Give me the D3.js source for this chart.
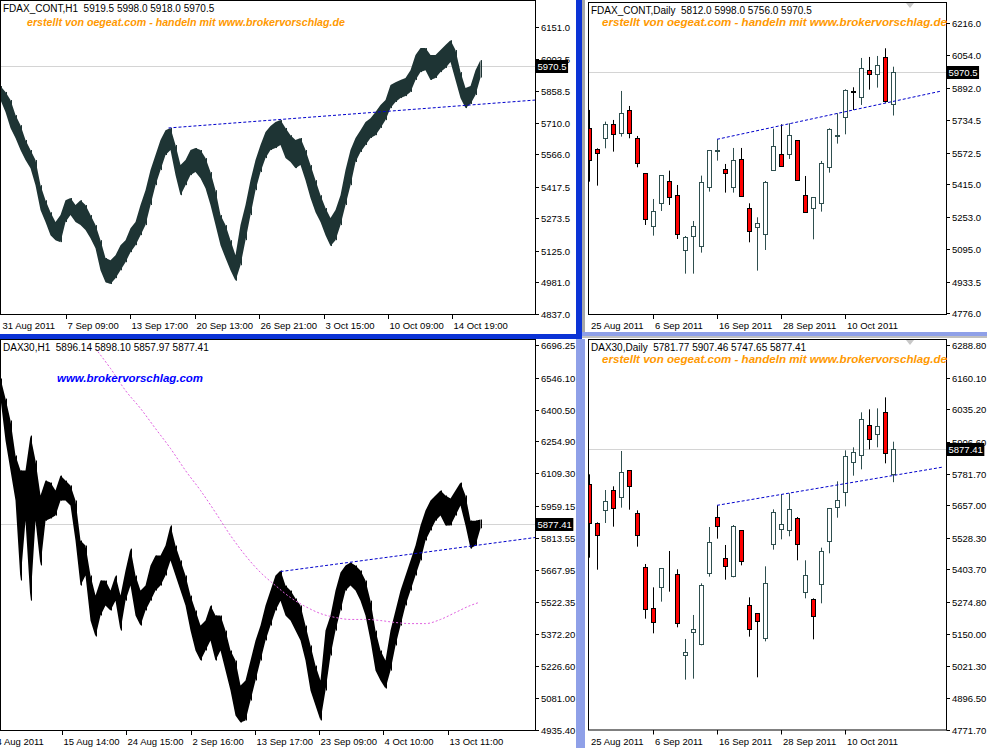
<!DOCTYPE html>
<html><head><meta charset="utf-8">
<script src="https://cdn.jsdelivr.net/npm/d3@7"></script>
<style>
body{margin:0;background:#fff;overflow:hidden;}
svg{display:block;}
text{font-family:"Liberation Sans",Arial,sans-serif;}
</style></head><body>
<svg id="c" width="987" height="748"></svg>
<script>
// ---------------- DATA ----------------
const tlHeader = "FDAX_CONT,H1  5919.5 5998.0 5918.0 5970.5";
const trHeader = "FDAX_CONT,Daily  5812.0 5998.0 5756.0 5970.5";
const blHeader = "DAX30,H1  5896.14 5898.10 5857.97 5877.41";
const brHeader = "DAX30,Daily  5781.77 5907.46 5747.65 5877.41";
const watermark = "erstellt von oegeat.com - handeln mit www.brokervorschlag.de";
const watermark2 = "www.brokervorschlag.com";

// FDAX H1 (top-left): high/low envelope sampled every 5 hourly bars
const tlStep = 5;
const tlHigh = [5879,5852,5815,5746,5700,5632,5586,5540,5425,5356,
                5301,5256,5288,5356,5366,5334,5356,5334,5288,5242,
                5173,5091,5081,5104,5150,5173,5228,5256,5334,5402,
                5494,5563,5632,5677,5687,5609,5517,5540,5586,5595,
                5586,5549,5485,5402,5288,5242,5173,5104,5242,5334,
                5448,5540,5609,5668,5696,5714,5723,5687,5654,5632,
                5641,5586,5517,5448,5379,5320,5274,5311,5379,5494,
                5586,5641,5677,5714,5732,5760,5792,5815,5884,5897,
                5907,5916,5952,6021,6053,6053,6021,6021,6044,6067,
                6089,6044,5943,5870,5879,5952,5998];
const tlLow  = [5815,5760,5687,5641,5586,5540,5503,5425,5311,5256,
                5196,5173,5164,5256,5288,5256,5242,5219,5182,5136,
                5035,4980,4972,4999,5035,5072,5118,5150,5196,5242,
                5334,5425,5494,5563,5586,5471,5379,5425,5471,5485,
                5457,5411,5334,5242,5150,5091,5035,4987,5058,5173,
                5288,5402,5485,5549,5586,5595,5609,5549,5531,5503,
                5517,5448,5366,5301,5256,5196,5146,5173,5242,5334,
                5425,5531,5577,5609,5641,5654,5687,5723,5778,5806,
                5824,5833,5852,5907,5943,5952,5907,5916,5943,5962,
                5989,5907,5824,5778,5797,5838,5918];
const tlLast = 5970.5;
const tlYTicks = [6151.0,6002.5,5858.5,5710.0,5566.0,5417.5,5273.5,5125.0,4981.0,4837.0];
const tlXLabels = ["31 Aug 2011","7 Sep 09:00","13 Sep 17:00","20 Sep 13:00","26 Sep 21:00","3 Oct 15:00","10 Oct 09:00","14 Oct 19:00"];
const tlXBars = [0,65,129,194,258,323,387,451];
const tlTrend = [[168,5687],[535,5815]];

// DAX30 H1 (bottom-left): high/low envelope sampled every 5 hourly bars
const blStep = 5;
const blHigh = [6543,6451,6351,6191,6122,6122,6282,6168,6008,6076,
                6067,6031,6099,6076,6054,5985,5802,5779,5642,5550,
                5619,5619,5573,5642,5550,5665,5765,5642,5573,5596,
                5688,5733,5733,5779,5871,5779,5711,5642,5550,5482,
                5413,5436,5505,5459,5459,5390,5299,5253,5139,5162,
                5253,5345,5413,5505,5573,5642,5665,5596,5573,5537,
                5505,5413,5322,5230,5162,5390,5459,5573,5656,5688,
                5701,5688,5665,5619,5527,5390,5299,5253,5390,5482,
                5573,5642,5711,5779,5871,5939,5985,6008,6031,6008,
                5994,6031,6067,6008,5893,5893,5898.10];
const blLow  = [6451,6259,6122,5985,5619,5893,5527,5893,5688,5893,
                5903,5916,5985,5985,5962,5802,5596,5642,5436,5363,
                5459,5505,5482,5527,5390,5527,5596,5459,5413,5482,
                5527,5573,5596,5642,5711,5642,5573,5505,5390,5299,
                5253,5299,5345,5253,5299,5207,5116,5002,4970,4979,
                5070,5162,5253,5345,5413,5482,5527,5459,5436,5390,
                5345,5253,5116,5047,4979,5116,5276,5390,5482,5573,
                5596,5573,5527,5459,5345,5207,5162,5125,5207,5322,
                5413,5505,5573,5642,5711,5802,5848,5893,5916,5871,
                5871,5916,5962,5871,5765,5779,5857.97];
const blLast = 5877.41;
const blYTicks = [6696.25,6546.10,6400.50,6254.90,6109.30,5959.15,5813.55,5667.95,5522.35,5372.20,5226.60,5081.00,4935.40];
const blXLabels = ["4 Aug 2011","15 Aug 14:00","24 Aug 15:00","2 Sep 16:00","13 Sep 17:00","23 Sep 09:00","4 Oct 10:00","13 Oct 11:00"];
const blXBars = [-6,61,125,190,254,318,382,447];
const blTrend = [[280,5660],[535,5816]];
const blMaBars = [95,110,125,140,155,170,185,200,215,230,245,260,275,290,305,320,335,350,365,380,395,410,425,440,455,470,478];
const blMa = [6680,6589,6488,6406,6314,6223,6122,6031,5930,5825,5733,5656,5596,5541,5500,5468,5450,5441,5441,5436,5427,5422,5422,5441,5473,5505,5518];

// Daily dates (shared by both daily charts)
const dailyDates = ["25 Aug 2011","26 Aug 2011","29 Aug 2011","30 Aug 2011","31 Aug 2011","1 Sep 2011","2 Sep 2011","5 Sep 2011","6 Sep 2011","7 Sep 2011","8 Sep 2011","9 Sep 2011","12 Sep 2011","13 Sep 2011","14 Sep 2011","15 Sep 2011","16 Sep 2011","19 Sep 2011","20 Sep 2011","21 Sep 2011","22 Sep 2011","23 Sep 2011","26 Sep 2011","27 Sep 2011","28 Sep 2011","29 Sep 2011","30 Sep 2011","3 Oct 2011","4 Oct 2011","5 Oct 2011","6 Oct 2011","7 Oct 2011","10 Oct 2011","11 Oct 2011","12 Oct 2011","13 Oct 2011","14 Oct 2011","17 Oct 2011","18 Oct 2011"];
const dailyLabelIdx = [0,8,16,24,32];

// FDAX Daily (top-right)
const trOpen  = [5692.8,5590.3,5643.2,5712.6,5668.0,5782.0,5643.2,5469.7,5210.4,5321.1,5431.7,5362.4,5088.1,5160.8,5108.0,5400.4,5580.0,5489.6,5400.4,5540.8,5296.3,5202.1,5167.4,5484.6,5563.9,5563.9,5633.3,5362.4,5296.3,5321.1,5499.5,5655.0,5747.3,5876.0,5846.4,5980.2,5960.4,6044.6,5812.0];
const trHigh  = [5783.6,5593.6,5725.8,5734.1,5877.8,5803.4,5654.8,5469.7,5342.5,5459.8,5483.0,5411.9,5159.1,5233.5,5458.2,5583.7,5638.2,5516.0,5595.3,5595.3,5321.1,5251.7,5431.7,5691.1,5712.6,5717.5,5633.3,5456.5,5350.8,5530.9,5692.8,5767.1,5886.0,5896.0,6041.3,6046.3,6051.2,6089.2,5998.0];
const trLow   = [5428.4,5408.6,5593.6,5577.1,5651.5,5643.2,5499.5,5213.7,5160.8,5283.1,5312.8,5144.3,4972.5,4972.5,5076.6,5378.9,5532.5,5373.9,5373.9,5355.8,5127.8,4987.4,5089.8,5484.6,5502.8,5540.8,5435.0,5276.5,5142.6,5279.8,5473.0,5616.8,5663.0,5783.6,5808.4,5884.4,5894.3,5820.0,5756.0];
const trClose = [5535.8,5568.9,5712.6,5663.0,5767.1,5668.0,5519.3,5241.8,5283.1,5459.8,5354.1,5167.4,5154.2,5207.1,5425.1,5583.7,5585.0,5469.7,5535.8,5355.8,5182.3,5221.9,5425.1,5603.6,5507.7,5658.1,5435.0,5276.5,5350.8,5519.3,5687.8,5660.0,5881.1,5874.0,5990.1,5960.4,6005.0,5829.9,5970.5];
const trLast = 5970.5;
const trYTicks = [6216.0,6054.0,5892.0,5734.5,5572.5,5415.0,5253.0,5095.0,4933.5,4776.0];
const trTrend = [[16,5638.2],[44.1,5877.8]];

// DAX30 Daily (bottom-right)
const brOpen  = [5739.2,5585.3,5636.6,5715.5,5687.9,5794.4,5624.7,5411.6,5249.9,5332.7,5412.0,5384.0,5064.4,5155.2,5109.1,5388.0,5608.9,5447.2,5376.1,5557.6,5261.7,5230.1,5131.5,5502.4,5561.6,5557.6,5605.0,5313.0,5285.4,5344.6,5514.2,5648.4,5707.6,5826.0,5853.6,5972.0,5936.4,6023.3,5781.77];
const brHigh  = [5778.6,5589.2,5716.8,5731.3,5870.7,5794.4,5636.6,5424.8,5332.7,5407.7,5476.1,5403.8,5128.9,5223.6,5348.5,5570.8,5656.3,5499.8,5578.7,5557.6,5293.3,5230.1,5415.6,5640.5,5699.7,5703.6,5610.3,5439.3,5289.3,5489.3,5644.5,5751.0,5873.3,5885.2,6023.3,6035.1,6039.0,6082.4,5907.46];
const brLow   = [5449.8,5402.4,5586.6,5572.1,5647.1,5639.2,5493.2,5209.1,5151.2,5276.2,5315.6,5174.9,4968.4,4972.3,5103.9,5374.8,5524.8,5363.0,5372.2,5419.5,5138.1,4977.6,5119.6,5481.4,5522.1,5534.0,5439.3,5289.3,5127.5,5269.6,5466.9,5607.6,5652.3,5773.4,5798.3,5877.3,5885.2,5822.0,5747.65];
const brClose = [5585.3,5537.9,5672.1,5644.5,5786.5,5731.3,5537.9,5245.9,5194.6,5407.7,5411.0,5190.7,5076.2,5167.0,5340.6,5510.3,5573.4,5415.6,5573.4,5435.3,5167.0,5198.6,5348.5,5628.7,5581.3,5640.5,5502.4,5380.1,5218.3,5474.8,5644.5,5676.0,5849.6,5865.4,5995.6,5916.7,5968.0,5861.5,5877.41];
const brLast = 5877.41;
const brYTicks = [6288.80,6160.10,6035.20,5906.60,5781.70,5657.00,5528.30,5403.70,5274.80,5150.00,5021.30,4896.50,4771.70];
const brTrend = [[16,5656.3],[44.3,5807.6]];

// ---------------- DRAWING ----------------
const svg = d3.select("#c");
const ORANGE = "#ff9900";
const TREND = "#0000cc";
const BULL = "#2f4f4f";

let clipId = 0;
function makePanel(p) {
  const g = svg.append("g");
  const id = "clip" + (clipId++);
  svg.append("clipPath").attr("id", id).append("rect")
    .attr("x", p.fx0 + 1).attr("y", p.fy0 + 1)
    .attr("width", p.fx1 - p.fx0 - 1).attr("height", p.fy1 - p.fy0 - 1);
  const y = d3.scaleLinear().domain(p.yDomain).range(p.yRange);
  const inner = g.append("g").attr("clip-path", `url(#${id})`);
  inner.append("line").attr("x1", p.fx0).attr("x2", p.fx1)
    .attr("y1", Math.round(y(p.last)) + 0.5).attr("y2", Math.round(y(p.last)) + 0.5)
    .attr("stroke", "#d4d4d4").attr("stroke-width", 1);
  g.append("rect").attr("x", p.fx0 + 0.5).attr("y", p.fy0 + 0.5)
    .attr("width", p.fx1 - p.fx0).attr("height", p.fy1 - p.fy0)
    .attr("fill", "none").attr("stroke", "#000");
  const ya = g.append("g");
  p.yTicks.forEach(v => {
    const yy = Math.round(y(v)) + 0.5;
    ya.append("line").attr("x1", p.fx1 + 0.5).attr("x2", p.fx1 + 4).attr("y1", yy).attr("y2", yy).attr("stroke", "#000");
    ya.append("text").attr("x", p.fx1 + 6).attr("y", yy + 3.5).attr("font-size", "9.5px").attr("fill", "#000").text(p.yFmt(v));
  });
  const ly = Math.round(y(p.last));
  const lt = g.append("text").attr("x", p.fx1 + 2.5).attr("y", ly + 3.5).attr("font-size", "9.5px").attr("fill", "#fff").text(p.yFmt(p.last));
  const w = lt.node().getComputedTextLength();
  g.insert("rect", () => lt.node()).attr("x", p.fx1 + 1).attr("y", ly - 6).attr("width", w + 3).attr("height", 13).attr("fill", "#000");
  g.append("text").attr("x", p.fx0 + 3).attr("y", p.fy0 + 11.5).attr("font-size", "10px").attr("fill", "#000")
    .style("white-space", "pre").text(p.header);
  return { g, inner, y };
}

function xAxis(g, p, positions, labels) {
  positions.forEach((px, i) => {
    if (i > 0) g.append("line").attr("x1", Math.round(px) + 0.5).attr("x2", Math.round(px) + 0.5)
      .attr("y1", p.fy1 + 0.5).attr("y2", p.fy1 + 5).attr("stroke", "#000");
    g.append("text").attr("x", px + 2).attr("y", p.fy1 + 15).attr("font-size", "9.5px").attr("fill", "#000").text(labels[i]);
  });
}

function h1Panel(p, step, highs, lows, fill) {
  const P = makePanel(p);
  const x = d3.scaleLinear().domain([0, 1]).range([p.fx0 + 0.5, p.fx0 + 1.5]);
  const idx = d3.range(highs.length);
  const area = d3.area().x(i => x(i * step)).y0(i => P.y(lows[i])).y1(i => P.y(highs[i])).curve(d3.curveLinear);
  P.inner.append("path").datum(idx).attr("d", area).attr("fill", fill);
  P.inner.append("g").selectAll("line").data(idx).join("line")
    .attr("x1", i => Math.round(x(i * step)) + 0.5).attr("x2", i => Math.round(x(i * step)) + 0.5)
    .attr("y1", i => P.y(highs[i])).attr("y2", i => P.y(lows[i]))
    .attr("stroke", fill).attr("stroke-width", 1);
  xAxis(P.g, p, p.xBars.map(b => x(b)), p.xLabels);
  P.inner.append("line").attr("x1", x(p.trend[0][0])).attr("y1", P.y(p.trend[0][1]))
    .attr("x2", x(p.trend[1][0])).attr("y2", P.y(p.trend[1][1]))
    .attr("stroke", TREND).attr("stroke-width", 1).attr("stroke-dasharray", "3,2");
  return { P, x };
}

const fmt1 = d3.format(".1f"), fmt2 = d3.format(".2f");

const TL = { fx0: 0, fy0: 0, fx1: 535, fy1: 314, yDomain: [4837, 6151], yRange: [313.5, 26.7],
  last: tlLast, yTicks: tlYTicks, yFmt: fmt1, header: tlHeader, xBars: tlXBars, xLabels: tlXLabels, trend: tlTrend };
const tl = h1Panel(TL, tlStep, tlHigh, tlLow, "#1e3434");
tl.P.g.append("text").attr("x", 27).attr("y", 25.5).attr("font-size", "11px").attr("font-weight", "bold")
  .attr("font-style", "italic").attr("fill", ORANGE).attr("textLength", 318).attr("lengthAdjust", "spacingAndGlyphs").text(watermark);

const BL = { fx0: 0, fy0: 339, fx1: 535, fy1: 730, yDomain: [4935.4, 6696.25], yRange: [730, 345],
  last: blLast, yTicks: blYTicks, yFmt: fmt2, header: blHeader, xBars: blXBars, xLabels: blXLabels, trend: blTrend };
const bl = h1Panel(BL, blStep, blHigh, blLow, "#000");
bl.P.inner.append("path").datum(d3.range(blMa.length))
  .attr("d", d3.line().x(i => bl.x(blMaBars[i])).y(i => bl.P.y(blMa[i])).curve(d3.curveMonotoneX))
  .attr("fill", "none").attr("stroke", "#e060e0").attr("stroke-width", 1).attr("stroke-dasharray", "2,2");
bl.P.g.append("text").attr("x", 57).attr("y", 382).attr("font-size", "11px").attr("font-weight", "bold")
  .attr("font-style", "italic").attr("fill", "#0000ff").attr("textLength", 146).attr("lengthAdjust", "spacingAndGlyphs").text(watermark2);

function dailyPanel(p, O, H, L, C) {
  const P = makePanel(p);
  const x = d3.scaleLinear().domain([0, 1]).range([589, 597]);
  const idx = d3.range(O.length);
  const c = P.inner.append("g");
  idx.forEach(i => {
    const bear = C[i] < O[i];
    const cx = Math.round(x(i)) + 0.5;
    c.append("line").attr("x1", cx).attr("x2", cx).attr("y1", P.y(H[i])).attr("y2", P.y(L[i]))
      .attr("stroke", bear ? "#000" : BULL).attr("stroke-width", 1);
    const top = Math.round(P.y(Math.max(O[i], C[i]))) + 0.5;
    const bot = Math.round(P.y(Math.min(O[i], C[i]))) + 0.5;
    c.append("rect").attr("x", cx - 2).attr("y", top).attr("width", 4).attr("height", Math.max(0, bot - top))
      .attr("fill", bear ? "#ff0000" : "#fff").attr("stroke", bear ? "#000" : BULL).attr("stroke-width", 1);
  });
  xAxis(P.g, p, dailyLabelIdx.map(i => x(i)), dailyLabelIdx.map(i => dailyDates[i]));
  P.inner.append("line").attr("x1", x(p.trend[0][0])).attr("y1", P.y(p.trend[0][1]))
    .attr("x2", x(p.trend[1][0])).attr("y2", P.y(p.trend[1][1]))
    .attr("stroke", TREND).attr("stroke-width", 1).attr("stroke-dasharray", "3,2");
  P.g.append("path").attr("d", `M${p.fx1 - 40},${p.fy0 + 1} l8,0 l-4,5 z`).attr("fill", "#c8c8c8");
  P.g.append("text").attr("x", 602).attr("y", p.fy0 + 24).attr("font-size", "11px").attr("font-weight", "bold")
    .attr("font-style", "italic").attr("fill", ORANGE).attr("textLength", 345).attr("lengthAdjust", "spacingAndGlyphs").text(watermark);
  return P;
}

const TR = { fx0: 588, fy0: 2, fx1: 946, fy1: 314, yDomain: [4776, 6216], yRange: [313.3, 22.7],
  last: trLast, yTicks: trYTicks, yFmt: fmt1, header: trHeader, trend: trTrend };
dailyPanel(TR, trOpen, trHigh, trLow, trClose);
const BR = { fx0: 588, fy0: 339, fx1: 946, fy1: 729.5, yDomain: [4771.7, 5877.41], yRange: [729.5, 449.3],
  last: brLast, yTicks: brYTicks, yFmt: fmt2, header: brHeader, trend: brTrend };
dailyPanel(BR, brOpen, brHigh, brLow, brClose);

const chrome = svg.append("g");
chrome.append("rect").attr("x", 576).attr("y", 339).attr("width", 9).attr("height", 409).attr("fill", "#8fa0e8");
chrome.append("rect").attr("x", 582).attr("y", 332).attr("width", 405).attr("height", 4).attr("fill", "#8fa0e8");
chrome.append("rect").attr("x", 582).attr("y", 336).attr("width", 405).attr("height", 2).attr("fill", "#c0c0c0");
chrome.append("rect").attr("x", 582).attr("y", 0).attr("width", 3).attr("height", 332).attr("fill", "#a8a8a8");
chrome.append("rect").attr("x", 576).attr("y", 0).attr("width", 6).attr("height", 339).attr("fill", "#0b33d6");
chrome.append("rect").attr("x", 0).attr("y", 334).attr("width", 582).attr("height", 5).attr("fill", "#0b33d6");
</script>
</body></html>
